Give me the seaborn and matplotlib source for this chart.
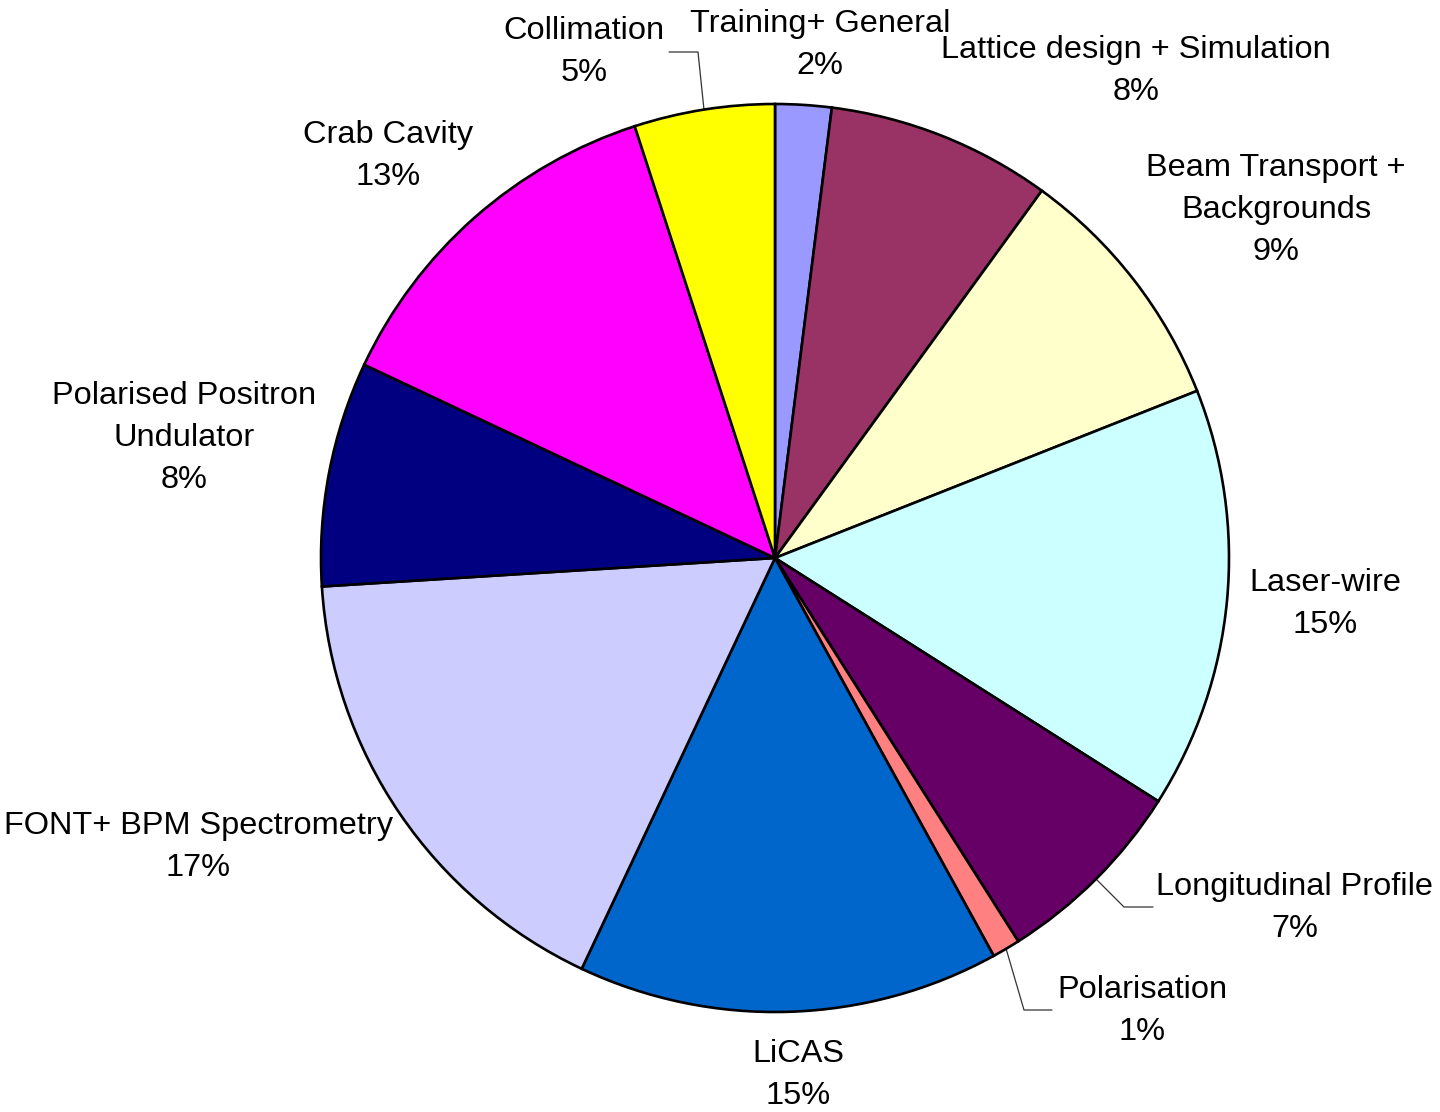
import matplotlib
matplotlib.use("Agg")
import matplotlib.pyplot as plt
import seaborn as sns
import numpy as np

# Share of effort per activity, clockwise from 12 o'clock
categories = [
    "Training+ General",
    "Lattice design + Simulation",
    "Beam Transport +\nBackgrounds",
    "Laser-wire",
    "Longitudinal Profile",
    "Polarisation",
    "LiCAS",
    "FONT+ BPM Spectrometry",
    "Polarised Positron\nUndulator",
    "Crab Cavity",
    "Collimation",
]
shares = [2, 8, 9, 15, 7, 1, 15, 17, 8, 13, 5]
colors = [
    "#9999FF", "#993366", "#FFFFCC", "#CCFFFF", "#660066", "#FF8080",
    "#0066CC", "#CCCCFF", "#000080", "#FF00FF", "#FFFF00",
]

sns.set_style("white")
plt.rcParams["font.family"] = ["Liberation Sans", "DejaVu Sans"]

W, H = 1440, 1112
fig = plt.figure(figsize=(W / 100, H / 100), dpi=100)
ax = fig.add_axes([0, 0, 1, 1])

cx, cy, R = 775, H - 558, 454
wedges, _ = ax.pie(
    shares, colors=colors, startangle=90, counterclock=False,
    center=(cx, cy), radius=R,
    wedgeprops=dict(edgecolor="black", linewidth=1.9),
)
ax.set_xlim(0, W)
ax.set_ylim(0, H)
ax.set_aspect("equal")
ax.axis("off")

# label block centres (x, y measured from the top edge)
label_pos = {
    "Training+ General": (820, 45),
    "Lattice design + Simulation": (1136, 71),
    "Beam Transport +\nBackgrounds": (1276, 210),
    "Laser-wire": (1325, 604),
    "Longitudinal Profile": (1295, 908),
    "Polarisation": (1142, 1011),
    "LiCAS": (798, 1075),
    "FONT+ BPM Spectrometry": (198, 847),
    "Polarised Positron\nUndulator": (184, 438),
    "Crab Cavity": (388, 156),
    "Collimation": (584, 52),
}

# leader lines: elbow and end point for labels set away from their wedge
leaders = {
    "Collimation": [(698, 52), (669, 52)],
    "Longitudinal Profile": [(1124, 907), (1153, 907)],
    "Polarisation": [(1024, 1010), (1052, 1010)],
}

for w, name, val in zip(wedges, categories, shares):
    x, y = label_pos[name]
    ax.text(x, H - y, f"{name}\n{val}%", ha="center", va="center",
            fontsize=23.4, linespacing=1.54, color="black")
    if name in leaders:
        mid = np.deg2rad((w.theta1 + w.theta2) / 2)
        pts = [(cx + R * np.cos(mid), cy + R * np.sin(mid))]
        pts += [(px, H - py) for px, py in leaders[name]]
        xs, ys = zip(*pts)
        ax.plot(xs, ys, color="#333333", linewidth=0.9, zorder=0.5)

fig.savefig("out.png", dpi=100)
